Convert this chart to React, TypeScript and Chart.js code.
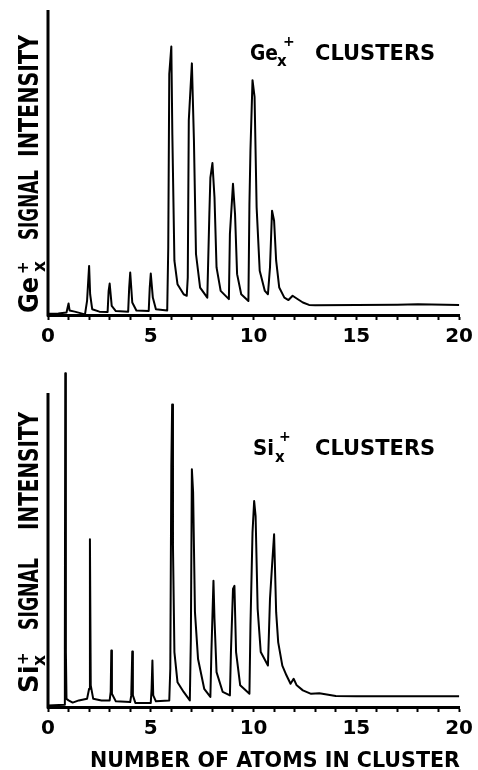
import React, { useEffect, useRef } from "react";
import { Chart, registerables } from "chart.js";
Chart.register(...registerables);

// tick labels on the "number of atoms" axis
const labeledTicks = [0, 5, 10, 15, 20];

// Ge_x+ signal trace (x = number of atoms, y = relative intensity, axis top = 100)
const geX = [0, 0.5, 0.9, 1.0, 1.05, 1.3, 1.8, 1.9, 2.0, 2.05, 2.15, 2.5, 2.9, 2.95, 3.0, 3.1, 3.3, 3.9, 3.95, 4.0, 4.1, 4.3, 4.9, 4.95, 5.0, 5.1, 5.25, 5.8, 5.85, 5.9, 6.0, 6.05, 6.15, 6.3, 6.6, 6.75, 6.8, 6.85, 7.0, 7.1, 7.2, 7.4, 7.75, 7.85, 7.9, 8.0, 8.1, 8.2, 8.4, 8.8, 8.85, 9.0, 9.1, 9.2, 9.4, 9.75, 9.8, 9.85, 9.95, 10.05, 10.15, 10.3, 10.55, 10.7, 10.8, 10.9, 11.0, 11.1, 11.25, 11.5, 11.7, 11.9, 12.1, 12.4, 12.7, 13, 17, 18, 20];
const geY = [0.4, 0.5, 0.8, 3.8, 1.5, 1.1, 0.2, 4.6, 16.1, 6.8, 1.9, 1.1, 1.0, 7.9, 10.3, 3.0, 1.3, 1.1, 9.0, 13.9, 4.1, 1.5, 1.3, 9.0, 13.6, 5.7, 1.9, 1.5, 22, 79, 88, 59, 17.8, 10.1, 6.8, 6.3, 12.3, 63.8, 82.5, 57.2, 20, 9.0, 5.7, 33, 45, 49.8, 38.6, 15.6, 7.9, 5.2, 26.5, 43, 33, 13.4, 6.8, 4.6, 36.4, 54, 77, 71.5, 35.3, 14.5, 7.9, 6.8, 15.6, 34.2, 30.9, 17.8, 9.0, 5.7, 4.9, 6.3, 5.4, 4.1, 3.3, 3.2, 3.4, 3.5, 3.3];

// Si_x+ signal trace
const siX = [0, 0.8, 0.82, 0.84, 0.87, 0.9, 1.0, 1.2, 1.5, 1.9, 2.0, 2.04, 2.08, 2.2, 2.6, 3.0, 3.05, 3.08, 3.11, 3.3, 4.0, 4.05, 4.1, 4.13, 4.25, 5.0, 5.04, 5.08, 5.12, 5.25, 5.9, 5.95, 6.0, 6.04, 6.08, 6.15, 6.3, 6.6, 6.9, 6.95, 7.0, 7.06, 7.15, 7.3, 7.6, 7.9, 7.95, 8.05, 8.1, 8.2, 8.5, 8.85, 8.9, 9.0, 9.07, 9.15, 9.35, 9.8, 9.85, 9.95, 10.03, 10.1, 10.2, 10.35, 10.7, 10.8, 10.9, 11.0, 11.1, 11.2, 11.4, 11.6, 11.8, 11.95, 12.1, 12.4, 12.8, 13.2, 14, 15, 20];
const siY = [0.5, 0.7, 18.5, 106.3, 17.5, 2.6, 2.1, 1.4, 2.1, 2.6, 5.8, 53.4, 6.9, 2.6, 2.1, 2.1, 4.8, 18, 4.2, 1.8, 1.6, 3.7, 17.7, 3.7, 1.3, 1.3, 5.8, 14.8, 3.7, 1.8, 2.1, 12.2, 76.7, 96.3, 51.3, 17.5, 7.9, 4.8, 2.1, 21.7, 75.7, 68.3, 30.2, 15.3, 5.8, 3.2, 17.5, 40.2, 28, 11.1, 4.8, 3.7, 17.5, 37.6, 38.6, 17.5, 6.9, 4.2, 25.9, 55.6, 65.6, 60.8, 31.2, 17.5, 13.2, 34.4, 45, 55, 30.2, 20.6, 13.2, 10.1, 7.4, 9.0, 6.9, 5.3, 4.2, 4.4, 3.5, 3.4, 3.4];

const FONT = "'DejaVu Sans', sans-serif";

type PanelText = {
  offsetY: number;
  element: string;
  // y-axis label pieces (page coords): start y (bottom end) and max width
  elemStart: number; elemW: number;
  subStart: number; supStart: number;
  signalStart: number; signalW: number;
  intensStart: number; intensW: number;
  // annotation
  annElemX: number; annBase: number; annSubX: number; annSupX: number; annSupBase: number; annSubBase: number; annElemW: number;
  xTitle: boolean;
};

function rotText(ctx: CanvasRenderingContext2D, text: string, xBase: number, yStart: number, font: string, maxW?: number) {
  ctx.save();
  ctx.translate(xBase, yStart);
  ctx.rotate(-Math.PI / 2);
  ctx.font = font;
  ctx.textAlign = "left";
  ctx.textBaseline = "alphabetic";
  if (maxW) ctx.fillText(text, 0, 0, maxW);
  else ctx.fillText(text, 0, 0);
  ctx.restore();
}

function decoPlugin(p: PanelText) {
  return {
    id: "deco",
    afterDraw(chart: any) {
      const ctx: CanvasRenderingContext2D = chart.ctx;
      const ys = chart.scales.y;
      const left = chart.chartArea.left;
      const o = p.offsetY;
      ctx.save();
      // left axis line
      ctx.strokeStyle = "#000";
      ctx.lineWidth = 3;
      ctx.beginPath();
      ctx.moveTo(left, ys.getPixelForValue(0) + 1.5);
      ctx.lineTo(left, ys.getPixelForValue(100));
      ctx.stroke();

      ctx.fillStyle = "#000";
      // rotated y label
      rotText(ctx, p.element, 38, p.elemStart - o, `bold 26px ${FONT}`, p.elemW);
      rotText(ctx, "x", 45, p.subStart - o, `bold 17px ${FONT}`);
      rotText(ctx, "+", 28, p.supStart - o, `bold 15px ${FONT}`);
      rotText(ctx, "SIGNAL", 38, p.signalStart - o, `bold 26px ${FONT}`, p.signalW);
      rotText(ctx, "INTENSITY", 38, p.intensStart - o, `bold 26px ${FONT}`, p.intensW);

      // annotation
      ctx.textAlign = "left";
      ctx.textBaseline = "alphabetic";
      ctx.font = `bold 21px ${FONT}`;
      ctx.fillText(p.element, p.annElemX, p.annBase - o, p.annElemW);
      ctx.font = `bold 15px ${FONT}`;
      ctx.fillText("x", p.annSubX, p.annSubBase - o);
      ctx.font = `bold 14px ${FONT}`;
      ctx.fillText("+", p.annSupX, p.annSupBase - o);
      ctx.font = `bold 21px ${FONT}`;
      ctx.fillText("CLUSTERS", 315, p.annBase - o, 121);

      if (p.xTitle) {
        ctx.font = `bold 21px ${FONT}`;
        ctx.textAlign = "center";
        ctx.fillText("NUMBER OF ATOMS IN CLUSTER", 275, 767 - o, 370);
      }
      ctx.restore();
    },
  };
}

function makeConfig(xs: number[], ys: number[], topPad: number, xHeight: number, p: PanelText): any {
  const data = xs.map((x, i) => ({ x, y: ys[i] }));
  return {
    type: "line",
    data: {
      datasets: [
        {
          data,
          borderColor: "#000",
          borderWidth: 2,
          pointRadius: 0,
          tension: 0,
          fill: false,
          clip: false,
          borderJoinStyle: "round",
        },
      ],
    },
    options: {
      responsive: true,
      maintainAspectRatio: false,
      animation: false,
      layout: { padding: { left: 48, right: 18, top: topPad, bottom: 0 } },
      plugins: { legend: { display: false }, tooltip: { enabled: false } },
      scales: {
        x: {
          type: "linear",
          min: 0,
          max: 20,
          border: { display: true, color: "#000", width: 3 },
          grid: { display: true, drawOnChartArea: false, drawTicks: true, tickLength: 5, tickWidth: 2, color: "#000" },
          ticks: {
            stepSize: 1,
            autoSkip: false,
            maxRotation: 0,
            color: "#000",
            padding: 5,
            font: { family: FONT, weight: "bold", size: 20 },
            callback: (v: any) => (labeledTicks.includes(Number(v)) ? String(v) : ""),
          },
          afterFit: (s: any) => {
            s.height = xHeight;
          },
        },
        y: { display: false, min: 0, max: 100 },
      },
    },
    plugins: [decoPlugin(p)],
  };
}

const geText: PanelText = {
  offsetY: 0,
  element: "Ge",
  elemStart: 313, elemW: 36,
  subStart: 272, supStart: 274,
  signalStart: 240, signalW: 70,
  intensStart: 157, intensW: 122,
  annElemX: 250, annBase: 60, annSubX: 277, annSubBase: 66, annSupX: 283, annSupBase: 46, annElemW: 28,
  xTitle: false,
};

const siText: PanelText = {
  offsetY: 350,
  element: "Si",
  elemStart: 693, elemW: 28,
  subStart: 666, supStart: 665,
  signalStart: 630, signalW: 72,
  intensStart: 530, intensW: 118,
  annElemX: 253, annBase: 455, annSubX: 275, annSubBase: 462, annSupX: 279, annSupBase: 441, annElemW: 21,
  xTitle: true,
};

export default function App() {
  const topRef = useRef<HTMLCanvasElement>(null);
  const botRef = useRef<HTMLCanvasElement>(null);
  useEffect(() => {
    const c1 = new Chart(topRef.current!, makeConfig(geX, geY, 10, 35, geText));
    const c2 = new Chart(botRef.current!, makeConfig(siX, siY, 43, 63, siText));
    return () => {
      c1.destroy();
      c2.destroy();
    };
  }, []);
  return (
    <div style={{ position: "fixed", left: 0, top: 0, width: 478, height: 770, background: "#fff" }}>
      <div style={{ position: "absolute", left: 0, top: 0, width: 478, height: 350 }}>
        <canvas ref={topRef} />
      </div>
      <div style={{ position: "absolute", left: 0, top: 350, width: 478, height: 420 }}>
        <canvas ref={botRef} />
      </div>
    </div>
  );
}
